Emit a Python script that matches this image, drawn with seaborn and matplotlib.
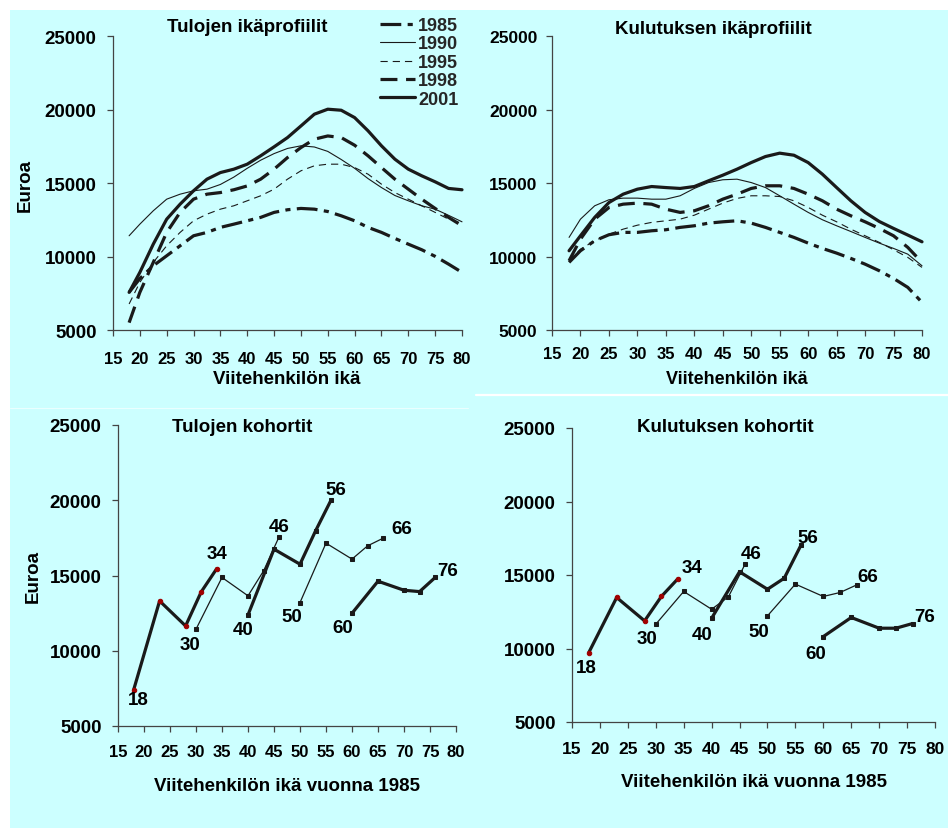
import numpy as np
import pandas as pd
import seaborn as sns
import matplotlib.pyplot as plt
from matplotlib.patches import Rectangle
from matplotlib.lines import Line2D
from matplotlib.transforms import Bbox, TransformedBbox

W, H = 948, 829

# ---- age profiles (Euroa by age of reference person) ----
ages = [18, 20, 22.5, 25, 27.5, 30, 32.5, 35, 37.5, 40, 42.5, 45, 47.5,
        50, 52.5, 55, 57.5, 60, 62.5, 65, 67.5, 70, 72.5, 75, 77.5, 80]
years = ['1985', '1990', '1995', '1998', '2001']

inc_1985 = [7560, 8500, 9370, 10050, 10730, 11410, 11640, 11980, 12200, 12430, 12660, 13000, 13180,
            13270, 13220, 13060, 12770, 12430, 11980, 11640, 11230, 10840, 10460, 10010, 9480, 8920]
inc_1990 = [11410, 12200, 13110, 13900, 14240, 14470, 14580, 14900, 15400, 16000, 16550, 17000, 17350,
            17530, 17450, 17150, 16600, 16000, 15300, 14690, 14150, 13790, 13450, 13220, 12800, 12360]
inc_1995 = [6770, 8240, 9600, 10730, 11640, 12430, 12880, 13220, 13450, 13790, 14130, 14580, 15260,
            15830, 16170, 16280, 16280, 16050, 15600, 14920, 14350, 13900, 13450, 13000, 12540, 12270]
inc_1998 = [5500, 7560, 9600, 11640, 13000, 13900, 14240, 14350, 14540, 14800, 15260, 15940, 16730,
            17410, 17980, 18200, 18090, 17570, 16850, 16050, 15260, 14580, 13900, 13270, 12660, 12090]
inc_2001 = [7560, 8920, 10840, 12540, 13560, 14470, 15260, 15710, 15940, 16280, 16850, 17460, 18090,
            18880, 19680, 20020, 19950, 19450, 18550, 17530, 16620, 15940, 15490, 15080, 14630, 14540]

con_1985 = [9600, 10390, 11070, 11480, 11640, 11640, 11750, 11820, 11980, 12090, 12270, 12360, 12430,
            12270, 11980, 11640, 11300, 10910, 10550, 10230, 9870, 9480, 9030, 8510, 7900, 6880]
con_1990 = [11300, 12540, 13450, 13860, 13970, 13970, 13900, 13900, 14130, 14630, 15030, 15220, 15260,
            15030, 14690, 14130, 13560, 13000, 12500, 12090, 11700, 11300, 10910, 10550, 10160, 9370]
con_1995 = [9710, 10500, 11070, 11520, 11860, 12130, 12320, 12430, 12540, 12810, 13220, 13630, 13950,
            14130, 14130, 14080, 13790, 13340, 12810, 12360, 11860, 11410, 10960, 10460, 9940, 9260]
con_1998 = [9710, 11180, 12540, 13330, 13560, 13630, 13560, 13220, 13000, 13110, 13450, 13900, 14240,
            14630, 14810, 14810, 14630, 14240, 13790, 13220, 12770, 12360, 11910, 11410, 10620, 9600]
con_2001 = [10390, 11410, 12660, 13670, 14240, 14580, 14760, 14690, 14630, 14760, 15150, 15530, 15940,
            16390, 16800, 17030, 16890, 16390, 15600, 14690, 13790, 13000, 12380, 11910, 11460, 11000]

# ---- cohorts: age in 1985, then followed in 1990, 1995, 1998, 2001 ----
cohorts = [18, 30, 40, 50, 60]
coh_steps = [0, 5, 10, 13, 16]

inc_coh_18 = [7390, 13310, 11650, 13910, 15460]
inc_coh_30 = [11430, 14870, 13650, 15310, 17590]
inc_coh_40 = [12380, 16750, 15750, 17970, 20030]
inc_coh_50 = [13200, 17150, 16090, 16970, 17480]
inc_coh_60 = [12490, 14620, 14020, 13930, 14870]

con_coh_18 = [9720, 13470, 11880, 13540, 14760]
con_coh_30 = [11650, 13880, 12670, 13510, 15740]
con_coh_40 = [12060, 15220, 14030, 14780, 17030]
con_coh_50 = [12220, 14380, 13540, 13810, 14330]
con_coh_60 = [10810, 12110, 11380, 11380, 11700]

sns.set_theme(style="ticks")
plt.rcParams['font.family'] = ['Liberation Sans', 'DejaVu Sans']
plt.rcParams['font.weight'] = 'bold'

BG = '#CCFFFF'
INK = '#1a1a1a'

fig = plt.figure(figsize=(W / 100, H / 100), dpi=100)
fig.patch.set_facecolor('white')
fig.patches.append(Rectangle((10 / W, 0), 1 - 10 / W, 1 - 11 / H, transform=fig.transFigure,
                             facecolor=BG, edgecolor='none', zorder=-10))
fig.add_artist(Line2D([476 / W, 1], [1 - 396 / H] * 2, color='white', lw=1.6))
fig.add_artist(Line2D([10 / W, 468 / W], [1 - 409 / H] * 2, color='#EAFFFF', lw=0.8))


def px_axes(l, t, r, b):
    ax = fig.add_axes([l / W, 1 - b / H, (r - l) / W, (b - t) / H])
    ax.set_facecolor('none')
    return ax


def ftext(x, y, s, **kw):
    kw.setdefault('ha', 'center')
    kw.setdefault('va', 'center')
    kw.setdefault('fontweight', 'bold')
    fig.text(x / W, 1 - y / H, s, color='black', **kw)


def style(ax, ysize, xsize, ypad, xpad):
    ax.set_xlim(15, 80)
    ax.set_ylim(5000, 25000)
    ax.set_xticks(range(15, 81, 5))
    ax.set_yticks(range(5000, 25001, 5000))
    ax.set_xlabel('')
    ax.set_ylabel('')
    sns.despine(ax=ax)
    for s in ['left', 'bottom']:
        ax.spines[s].set_color('#444444')
        ax.spines[s].set_linewidth(0.9)
    ax.tick_params(axis='both', direction='out', length=4.3, width=0.9, color='#444444')
    ax.tick_params(axis='y', labelsize=ysize, pad=ypad)
    ax.tick_params(axis='x', labelsize=xsize, pad=xpad)
    for lab in ax.get_xticklabels() + ax.get_yticklabels():
        lab.set_fontweight('bold')
        lab.set_color('black')


widths = {'1985': 2.3, '1990': 0.8, '1995': 0.8, '1998': 2.3, '2001': 2.3}
dash_map = {'1985': (6.5, 2.0, 1.6, 2.0), '1990': '', '1995': (6.5, 4.5),
            '1998': (5.3, 2.7), '2001': ''}
colors = {y: INK for y in years}


def profile(ax, series, legend):
    df = pd.DataFrame({'ika': ages * len(years),
                       'euroa': np.concatenate(series),
                       'vuosi': np.repeat(years, len(ages))})
    sns.lineplot(data=df, x='ika', y='euroa', hue='vuosi', size='vuosi', style='vuosi',
                 palette=colors, sizes=widths, dashes=dash_map, hue_order=years,
                 style_order=years, size_order=years, errorbar=None, legend=legend, ax=ax)
    for ln in ax.lines:
        ln.set_clip_on(False)


def cohort_panel(ax, series, offsets):
    for c, vals in zip(cohorts, series):
        xs = [c + s for s in coh_steps]
        thick = c in (18, 40, 60)
        if c == 18:
            mk = dict(marker='o', markersize=3.2, markerfacecolor='#A00000', markeredgecolor='#A00000')
        else:
            mk = dict(marker='s', markersize=2.8, markerfacecolor=INK, markeredgecolor=INK)
        sns.lineplot(x=xs, y=vals, color=INK, lw=2.3 if thick else 0.9, ax=ax,
                     errorbar=None, legend=False, **mk)
        for age, v, lab in ((xs[0], vals[0], c), (xs[-1], vals[-1], xs[-1])):
            dx, dy = offsets[lab]
            ax.annotate(str(lab), xy=(age, v), xytext=(dx, dy), textcoords='offset pixels',
                        ha='center', va='center', fontsize=13.5, fontweight='bold',
                        color='black', annotation_clip=False)
    for ln in ax.lines:
        ln.set_clip_on(False)


# ---- top left: income age profiles ----
ax1 = px_axes(113, 37, 462, 331)
profile(ax1, [inc_1985, inc_1990, inc_1995, inc_1998, inc_2001], 'full')
style(ax1, 13.5, 12, 7.5, 10.5)
leg = ax1.get_legend()
handles = list(leg.legend_handles)
labels = [t.get_text() for t in leg.get_texts()]
leg.remove()
ax1.legend(handles, labels, loc='upper left', bbox_to_anchor=(380 / W, 1 - 18 / H),
           bbox_transform=fig.transFigure, frameon=False, fontsize=13,
           handlelength=1.95, handletextpad=0.15, labelspacing=0.08,
           borderpad=0, borderaxespad=0)
for t in ax1.get_legend().get_texts():
    t.set_fontweight('bold')
clip = TransformedBbox(Bbox.from_extents(0, 0, 474 / W, 1), fig.transFigure)
for lab in ax1.get_xticklabels():
    lab.set_clip_box(clip)
    lab.set_clip_on(True)
ftext(247, 28, 'Tulojen ikäprofiilit', fontsize=13.5)
ftext(287, 380, 'Viitehenkilön ikä', fontsize=13.5)
ftext(25, 185, 'Euroa', fontsize=13.5, rotation=90)

# ---- top right: consumption age profiles ----
ax2 = px_axes(552, 37, 922, 331)
profile(ax2, [con_1985, con_1990, con_1995, con_1998, con_2001], False)
style(ax2, 12.5, 12, 6.3, 7.5)
ftext(713, 29, 'Kulutuksen ikäprofiilit', fontsize=13.5)
ftext(737, 380, 'Viitehenkilön ikä', fontsize=13)

# ---- bottom left: income cohorts ----
off_inc = {18: (5, -9), 30: (-6, -15), 34: (0, 15), 40: (-5, -15), 46: (0, 10),
           50: (-8, -14), 56: (5, 10), 60: (-9, -14), 66: (19, 10), 76: (12, 7)}
ax3 = px_axes(118, 426, 456, 727)
cohort_panel(ax3, [inc_coh_18, inc_coh_30, inc_coh_40, inc_coh_50, inc_coh_60], off_inc)
style(ax3, 13.5, 12, 7.5, 9)
ftext(242, 427, 'Tulojen kohortit', fontsize=13.5)
ftext(287, 787, 'Viitehenkilön ikä vuonna 1985', fontsize=13.5)
ftext(33, 577, 'Euroa', fontsize=13.5, rotation=90)

# ---- bottom right: consumption cohorts ----
off_con = {18: (-2, -15), 30: (-9, -14), 34: (14, 11), 40: (-9, -16), 46: (6, 11),
           50: (-9, -16), 56: (7, 8), 60: (-8, -17), 66: (11, 8), 76: (12, 7)}
ax4 = px_axes(572, 429, 935, 723)
cohort_panel(ax4, [con_coh_18, con_coh_30, con_coh_40, con_coh_50, con_coh_60], off_con)
style(ax4, 13.5, 12.5, 7.5, 9.5)
ftext(725, 428, 'Kulutuksen kohortit', fontsize=13.5)
ftext(754, 783, 'Viitehenkilön ikä vuonna 1985', fontsize=13.5)

plt.savefig('out.png', dpi=100, facecolor=fig.get_facecolor())
